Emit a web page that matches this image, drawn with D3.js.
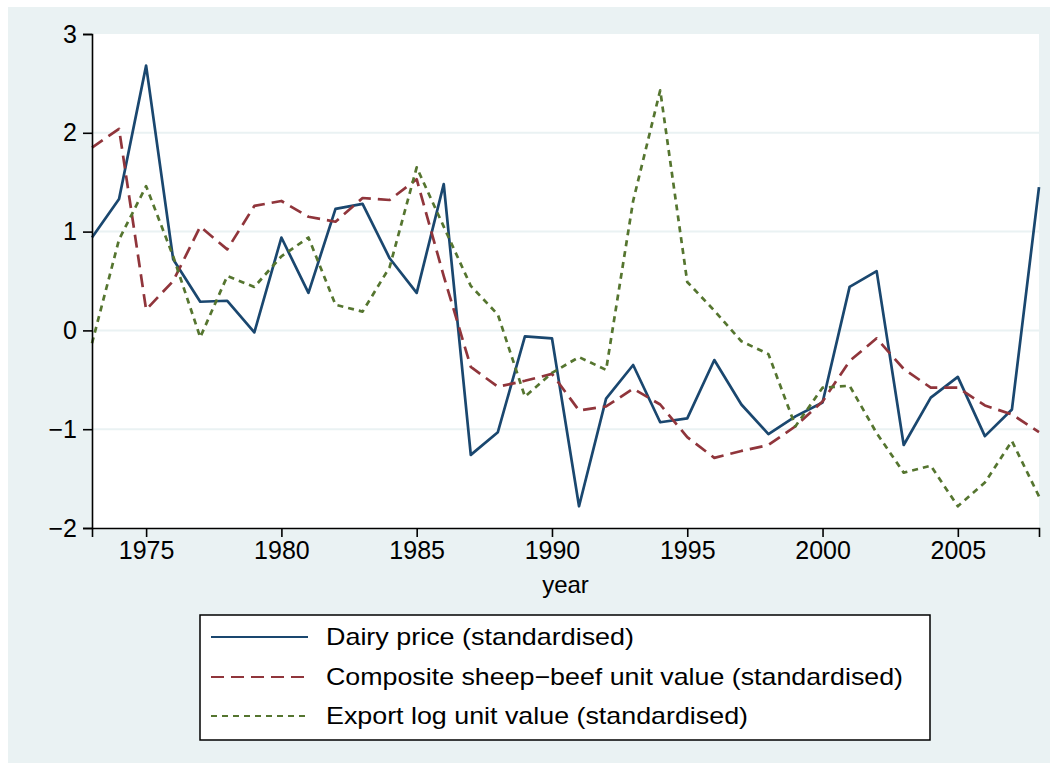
<!DOCTYPE html>
<html>
<head>
<meta charset="utf-8">
<script src="https://cdn.jsdelivr.net/npm/d3@7"></script>
<style>
  body { margin: 0; background: #fff; }
  svg { display: block; font-family: "Liberation Sans", Arial, sans-serif; }
</style>
</head>
<body>
<svg id="chart" width="1056" height="769"></svg>
<script>
// years 1973..2008
const years = d3.range(1973, 2009);
const dairy = [0.94, 1.33, 2.68, 0.72, 0.29, 0.30, -0.02, 0.94, 0.38, 1.23, 1.28, 0.73,
    0.38, 1.48, -1.26, -1.03, -0.06, -0.08, -1.78, -0.69, -0.35, -0.93, -0.89, -0.30,
    -0.75, -1.05, -0.87, -0.73, 0.44, 0.60, -1.16, -0.68, -0.47, -1.07, -0.80, 1.45];
const sheepBeef = [1.85, 2.04, 0.21, 0.50, 1.05, 0.82, 1.26, 1.31, 1.15, 1.10, 1.34, 1.32,
    1.53, 0.55, -0.37, -0.57, -0.51, -0.44, -0.81, -0.77, -0.59, -0.75, -1.08, -1.29,
    -1.22, -1.16, -0.97, -0.72, -0.31, -0.08, -0.39, -0.58, -0.58, -0.76, -0.85, -1.03];
const exportLog = [-0.13, 0.92, 1.46, 0.75, -0.07, 0.55, 0.44, 0.75, 0.94, 0.26, 0.19, 0.64,
    1.65, 1.05, 0.45, 0.16, -0.67, -0.43, -0.27, -0.40, 1.31, 2.43, 0.49, 0.20,
    -0.11, -0.24, -0.97, -0.58, -0.56, -1.04, -1.44, -1.37, -1.78, -1.54, -1.12, -1.68];
const yTicks = [-2, -1, 0, 1, 2, 3];
const xTicks = [1975, 1980, 1985, 1990, 1995, 2000, 2005];
const seriesNames = ["Dairy price (standardised)",
    "Composite sheep\u2212beef unit value (standardised)",
    "Export log unit value (standardised)"];

const series = [
    { name: seriesNames[0], values: dairy, color: "#1A476F", dash: null, textW: 308 },
    { name: seriesNames[1], values: sheepBeef, color: "#90353B", dash: "13,7", textW: 577 },
    { name: seriesNames[2], values: exportLog, color: "#55752F", dash: "6,5", textW: 422 }
];

const svg = d3.select("#chart");
const plot = { left: 92, right: 1039, top: 34, bottom: 528 };

// outer background
svg.append("rect")
    .attr("x", 8).attr("y", 7)
    .attr("width", 1042).attr("height", 756)
    .attr("fill", "#EAF2F3");
// plot region
svg.append("rect")
    .attr("x", plot.left).attr("y", plot.top)
    .attr("width", plot.right - plot.left).attr("height", plot.bottom - plot.top)
    .attr("fill", "#fff");

const x = d3.scaleLinear().domain([1973, 2008]).range([plot.left, plot.right]);
const y = d3.scaleLinear().domain([-2, 3]).range([plot.bottom, plot.top]);

// gridlines
svg.append("g")
    .selectAll("line")
    .data(yTicks.filter(d => d > -2 && d < 3))
    .enter().append("line")
    .attr("x1", plot.left).attr("x2", plot.right)
    .attr("y1", d => y(d)).attr("y2", d => y(d))
    .attr("stroke", "#EAF2F3")
    .attr("stroke-width", 2);

// lines
const line = d3.line()
    .x((d, i) => x(years[i]))
    .y(d => y(d));

series.forEach(s => {
    svg.append("path")
        .datum(s.values)
        .attr("d", line)
        .attr("fill", "none")
        .attr("stroke", s.color)
        .attr("stroke-width", 2.7)
        .attr("stroke-linejoin", "round")
        .attr("stroke-dasharray", s.dash);
});

// axes
const yAxis = svg.append("g")
    .attr("transform", "translate(" + plot.left + ",0)")
    .call(d3.axisLeft(y).tickValues(yTicks).tickSize(9).tickPadding(6)
        .tickFormat(d => d < 0 ? "\u2212" + Math.abs(d) : d));
const xAxis = svg.append("g")
    .attr("transform", "translate(0," + plot.bottom + ")")
    .call(d3.axisBottom(x).tickValues(xTicks).tickSize(9).tickPadding(4)
        .tickFormat(d3.format("d")));

[yAxis, xAxis].forEach(a => {
    a.select(".domain").attr("stroke", "#000").attr("stroke-width", 1.6);
    a.selectAll(".tick line").attr("stroke", "#000").attr("stroke-width", 1.6);
    a.selectAll("text").attr("fill", "#000").style("font-size", "25px");
});

// x axis title
svg.append("text")
    .attr("x", (plot.left + plot.right) / 2)
    .attr("y", 593)
    .attr("text-anchor", "middle")
    .style("font-size", "24px")
    .text("year");

// legend
const legend = svg.append("g");
legend.append("rect")
    .attr("x", 200).attr("y", 615)
    .attr("width", 730).attr("height", 125)
    .attr("fill", "#fff")
    .attr("stroke", "#000")
    .attr("stroke-width", 1.5);

const rowY = [637, 677, 716];
series.forEach((s, i) => {
    legend.append("line")
        .attr("x1", 211).attr("x2", 308)
        .attr("y1", rowY[i]).attr("y2", rowY[i])
        .attr("stroke", s.color)
        .attr("stroke-width", 2.2)
        .attr("stroke-dasharray", s.dash);
    legend.append("text")
        .attr("x", 326).attr("y", rowY[i])
        .attr("dy", "0.35em")
        .attr("textLength", s.textW)
        .attr("lengthAdjust", "spacingAndGlyphs")
        .style("font-size", "24px")
        .text(s.name);
});
</script>
</body>
</html>
